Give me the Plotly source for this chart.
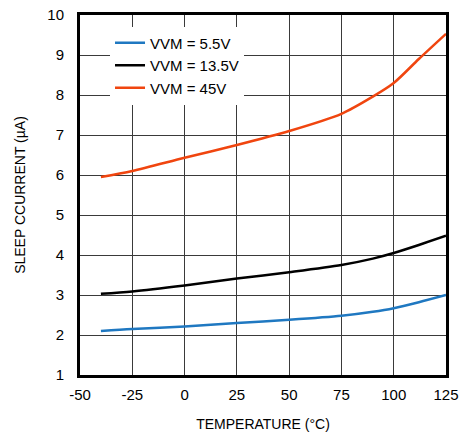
import plotly.graph_objects as go

temp = [-40, -25, 0, 25, 50, 75, 90, 100, 112, 125]
i_5v5 = [2.10, 2.15, 2.21, 2.30, 2.38, 2.48, 2.58, 2.67, 2.82, 3.00]
i_13v5 = [3.03, 3.09, 3.24, 3.41, 3.57, 3.75, 3.91, 4.05, 4.25, 4.48]
i_45v = [5.95, 6.10, 6.43, 6.75, 7.10, 7.53, 7.96, 8.30, 8.90, 9.53]

x_ticks = [-50, -25, 0, 25, 50, 75, 100, 125]
x_ticktext = ["-50", "-25", "0", "25", "50", "75", "100", "125"]
y_ticks = [1, 2, 3, 4, 5, 6, 7, 8, 9, 10]

series = [
    ("VVM = 5.5V", i_5v5, "#1f78c1"),
    ("VVM = 13.5V", i_13v5, "#000000"),
    ("VVM = 45V", i_45v, "#f0450f"),
]

fig = go.Figure()
for name, ys, color in series:
    fig.add_trace(go.Scatter(x=temp, y=ys, mode="lines", name=name,
                             line=dict(color=color, width=2.5, shape="spline", smoothing=0.8)))

font_family = "Liberation Sans, Arial, sans-serif"
fig.update_layout(
    width=465, height=439,
    margin=dict(l=80, r=19, t=15, b=64),
    paper_bgcolor="white", plot_bgcolor="white",
    font=dict(family=font_family, color="black"),
    legend=dict(x=0.082, y=0.968, xanchor="left", yanchor="top",
                bgcolor="white", font=dict(size=15), tracegroupgap=0,
                itemwidth=30),
    showlegend=True,
)
fig.update_xaxes(
    range=[-50, 125], tickvals=x_ticks, ticktext=x_ticktext,
    showgrid=True, gridcolor="#3a3a3a", gridwidth=1,
    showline=True, linecolor="black", linewidth=3, mirror=True,
    zeroline=False, ticks="outside", ticklen=4, tickcolor="rgba(0,0,0,0)",
    tickfont=dict(size=15), automargin=False,
    title=dict(text="TEMPERATURE (°C)", font=dict(size=14), standoff=18),
)
fig.update_yaxes(
    range=[1, 10], tickvals=y_ticks,
    showgrid=True, gridcolor="#3a3a3a", gridwidth=1,
    showline=True, linecolor="black", linewidth=3, mirror=True,
    zeroline=False, ticks="outside", ticklen=10, tickcolor="rgba(0,0,0,0)",
    tickfont=dict(size=15), automargin=False,
    title=dict(text="SLEEP CCURRENT (µA)", font=dict(size=14), standoff=19),
)
fig.write_html("out.html")
